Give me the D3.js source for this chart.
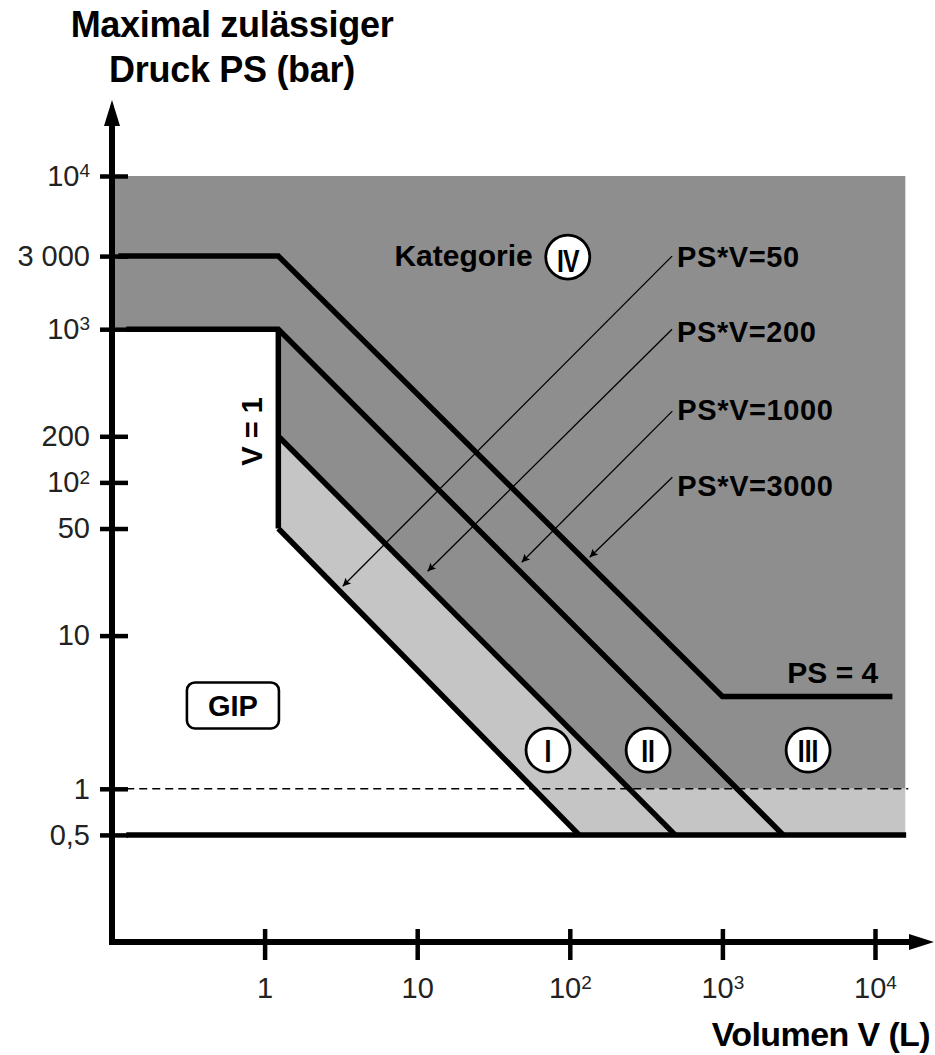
<!DOCTYPE html>
<html>
<head>
<meta charset="utf-8">
<script src="https://cdn.jsdelivr.net/npm/d3@7"></script>
<style>
  body { margin: 0; background: #fff; }
  svg { display: block; font-family: "Liberation Sans", Arial, sans-serif; }
</style>
</head>
<body>
<svg class="view" width="935" height="1055"></svg>
<script>
// ---- data (volume V in L, pressure PS in bar) ----
var xTicks = [1, 10, 100, 1000, 10000];
var xTickLabels = [['1'], ['10'], ['10', '2'], ['10', '3'], ['10', '4']];
var yTicks = [10000, 3000, 1000, 200, 100, 50, 10, 1, 0.5];
var yTickLabels = [['10', '4'], ['3 000'], ['10', '3'], ['200'], ['10', '2'], ['50'], ['10'], ['1'], ['0,5']];

// boundary lines as drawn, [V, PS]
var line3000 = [[0.11, 3000], [1.23, 3000], [1000, 4], [13000, 4]];
var line1000 = [[0.124, 1000], [1.23, 1000], [2500, 0.5]];
var line200 = [[1.23, 200], [490, 0.5]];
var line50 = [[1.23, 50], [115, 0.5]];
var lineV1 = [[1.23, 1000], [1.23, 50]];
var line05 = [[0.124, 0.5], [16000, 0.5]];
var line1 = [[0.124, 1], [16500, 1]];

// shaded zones
var darkZone = [[0.1, 10000], [15800, 10000], [15800, 1], [0.1, 1]];
var lightStrip = [[0.1, 1], [15800, 1], [15800, 0.5], [0.1, 0.5]];
var catIBand = [[1.23, 200], [490, 0.5], [115, 0.5], [1.23, 50]];
var gipZone = [[0.1, 1000], [1.23, 1000], [1.23, 50], [115, 0.5], [0.1, 0.5]];

// PS*V annotations
var pvLabels = ['PS*V=50', 'PS*V=200', 'PS*V=1000', 'PS*V=3000'];
var pvLabelPS = [3000, 960, 300, 96];
var pvStart = [[468, 3000], [468, 1000], [470, 292], [470, 108]];
var pvTip = [[3.25, 21], [11.7, 26.3], [48.4, 30.1], [135, 32.5]];

// category markers
var catNames = ['I', 'II', 'III', 'IV'];
var catPos = [[72, 1.79], [326, 1.79], [3645, 1.79], [97, 2958]];

var svg = d3.select('.view');
var dark = '#8e8e8e', light = '#c5c5c5';

var x = d3.scaleLog().domain([0.1, 10000]).range([112, 875]);
var y = d3.scaleLog().domain([0.1, 10000]).range([942, 176]);

var line = d3.line()
    .x(function (d) { return x(d[0]); })
    .y(function (d) { return y(d[1]); });

function area(pts, fill) {
    svg.append('path')
        .attr('d', line(pts) + 'Z')
        .attr('fill', fill);
}

area(darkZone, dark);
area(lightStrip, light);
area(catIBand, light);
area(gipZone, '#fff');

// dashed PS = 1
svg.append('path')
    .attr('d', line(line1))
    .attr('fill', 'none')
    .attr('stroke', '#000')
    .attr('stroke-width', 1.4)
    .attr('stroke-dasharray', '8,5');

// boundaries
[line3000, line1000, line200, line50, lineV1, line05].forEach(function (pts) {
    svg.append('path')
        .attr('d', line(pts))
        .attr('fill', 'none')
        .attr('stroke', '#000')
        .attr('stroke-width', 5.5)
        .attr('stroke-linejoin', 'miter');
});

// ---- axes ----
var yAxis = svg.append('g')
    .attr('transform', 'translate(' + x(0.1) + ',0)')
    .call(d3.axisLeft(y).tickValues(yTicks).tickSize(12).tickPadding(10)
        .tickFormat(function (d, i) { return yTickLabels[i][0]; }));

var xAxis = svg.append('g')
    .attr('transform', 'translate(0,' + y(0.1) + ')')
    .call(d3.axisBottom(x).tickValues(xTicks).tickSize(18).tickPadding(17)
        .tickFormat(function (d, i) { return xTickLabels[i][0]; }));

[yAxis, xAxis].forEach(function (g) {
    g.select('.domain').remove();
    g.selectAll('.tick line').attr('stroke', '#000').attr('stroke-width', 4.5);
    g.selectAll('.tick text')
        .attr('fill', '#222')
        .style('font-family', '"Liberation Sans", Arial, sans-serif')
        .style('font-size', '29px');
});
yAxis.selectAll('.tick line').attr('x1', 16);
xAxis.selectAll('.tick line').attr('y1', -13);

function addSup(sel, labels) {
    sel.selectAll('.tick text').each(function (d, i) {
        if (labels[i].length > 1) {
            d3.select(this).append('tspan')
                .attr('dy', '-0.45em')
                .style('font-size', '19px')
                .text(labels[i][1]);
        }
    });
}
addSup(yAxis, yTickLabels);
addSup(xAxis, xTickLabels);

// axis lines with arrows
svg.append('line')
    .attr('x1', x(0.1)).attr('y1', y(0.1) + 3)
    .attr('x2', x(0.1)).attr('y2', 120)
    .attr('stroke', '#000').attr('stroke-width', 6);
svg.append('path')
    .attr('d', 'M' + (x(0.1) - 8) + ',126L' + x(0.1) + ',100L' + (x(0.1) + 8) + ',126Z')
    .attr('fill', '#000');
svg.append('line')
    .attr('x1', x(0.1) - 3).attr('y1', y(0.1))
    .attr('x2', 915).attr('y2', y(0.1))
    .attr('stroke', '#000').attr('stroke-width', 6);
svg.append('path')
    .attr('d', 'M909,' + (y(0.1) - 8) + 'L934,' + y(0.1) + 'L909,' + (y(0.1) + 8) + 'Z')
    .attr('fill', '#000');

// ---- annotations ----
svg.append('defs').append('marker')
    .attr('id', 'tip')
    .attr('viewBox', '0 0 10 10')
    .attr('refX', 10).attr('refY', 5)
    .attr('markerWidth', 15).attr('markerHeight', 8)
    .attr('markerUnits', 'userSpaceOnUse')
    .attr('orient', 'auto')
    .append('path').attr('d', 'M0,0L10,5L0,10L2,5Z').attr('fill', '#000');

pvLabels.forEach(function (t, i) {
    svg.append('line')
        .attr('x1', x(pvStart[i][0])).attr('y1', y(pvStart[i][1]))
        .attr('x2', x(pvTip[i][0])).attr('y2', y(pvTip[i][1]))
        .attr('stroke', '#000').attr('stroke-width', 1.3)
        .attr('marker-end', 'url(#tip)');
    svg.append('text')
        .attr('x', x(pvStart[i][0]) + 5)
        .attr('y', y(pvLabelPS[i]))
        .attr('dy', '0.36em')
        .attr('font-size', 29).attr('font-weight', 'bold')
        .attr('letter-spacing', 0.6)
        .text(t);
});

catNames.forEach(function (t, i) {
    var cx = x(catPos[i][0]), cy = y(catPos[i][1]);
    svg.append('circle')
        .attr('cx', cx).attr('cy', cy).attr('r', 22)
        .attr('fill', '#fff').attr('stroke', '#000').attr('stroke-width', 2.8);
    svg.append('text')
        .attr('transform', 'translate(' + cx + ',' + cy + ') scale(0.8,1)')
        .attr('dy', t === 'IV' ? '0.48em' : '0.4em')
        .attr('text-anchor', 'middle')
        .attr('font-size', 31).attr('font-weight', 'bold')
        .attr('letter-spacing', t === 'IV' ? -1 : 0)
        .text(t);
});

// Kategorie label left of IV circle
svg.append('text')
    .attr('x', x(catPos[3][0]) - 35)
    .attr('y', y(catPos[3][1]) + 9)
    .attr('text-anchor', 'end')
    .attr('font-size', 30).attr('font-weight', 'bold')
    .text('Kategorie');

// PS = 4
svg.append('text')
    .attr('x', x(10500)).attr('y', y(4) - 14)
    .attr('text-anchor', 'end')
    .attr('font-size', 30).attr('font-weight', 'bold')
    .text('PS = 4');

// V = 1, rotated
svg.append('text')
    .attr('transform', 'translate(' + (x(1.23) - 16) + ',' + y(215) + ') rotate(-90)')
    .attr('text-anchor', 'middle')
    .attr('font-size', 29).attr('font-weight', 'bold')
    .text('V = 1');

// GIP box
var gx = x(0.62), gy = y(3.5);
svg.append('rect')
    .attr('x', gx - 46).attr('y', gy - 23)
    .attr('width', 92).attr('height', 46)
    .attr('rx', 8)
    .attr('fill', '#fff').attr('stroke', '#000').attr('stroke-width', 2.6);
svg.append('text')
    .attr('x', gx).attr('y', gy).attr('dy', '0.36em')
    .attr('text-anchor', 'middle')
    .attr('font-size', 29).attr('font-weight', 'bold')
    .text('GIP');

// titles
svg.append('text')
    .attr('x', 232).attr('y', 37)
    .attr('text-anchor', 'middle')
    .attr('font-size', 36).attr('font-weight', 'bold')
    .attr('letter-spacing', -0.3)
    .text('Maximal zulässiger');
svg.append('text')
    .attr('x', 232).attr('y', 82)
    .attr('text-anchor', 'middle')
    .attr('font-size', 36).attr('font-weight', 'bold')
    .attr('letter-spacing', -0.3)
    .text('Druck PS (bar)');
svg.append('text')
    .attr('x', 930).attr('y', 1046)
    .attr('text-anchor', 'end')
    .attr('font-size', 34).attr('font-weight', 'bold')
    .attr('letter-spacing', -0.6)
    .text('Volumen V (L)');
</script>
</body>
</html>
